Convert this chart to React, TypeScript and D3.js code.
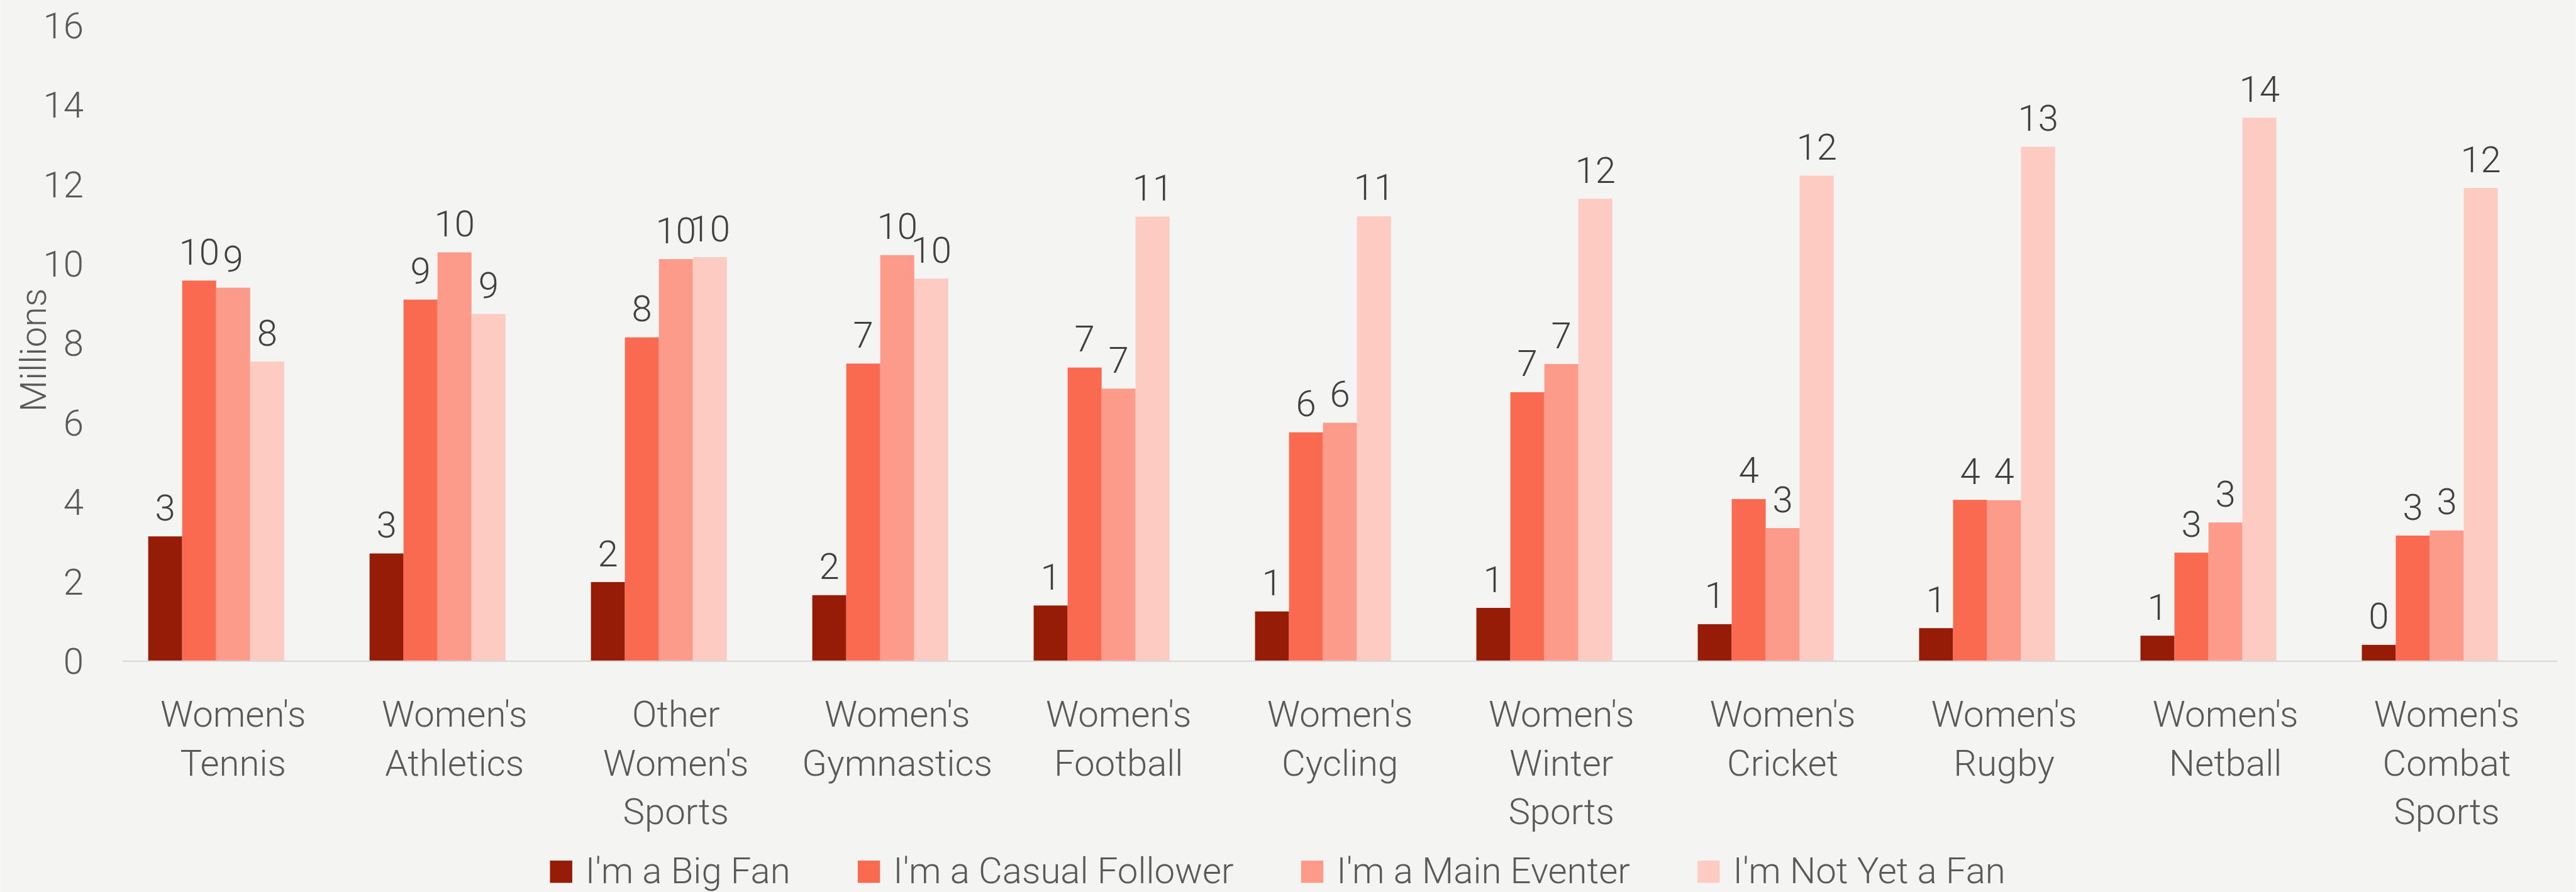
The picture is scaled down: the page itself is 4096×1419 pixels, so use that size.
import * as d3 from 'd3';
import { useLayoutEffect, useRef, useState } from 'react';

const categories = [
  "Women's Tennis",
  "Women's Athletics",
  "Other Women's Sports",
  "Women's Gymnastics",
  "Women's Football",
  "Women's Cycling",
  "Women's Winter Sports",
  "Women's Cricket",
  "Women's Rugby",
  "Women's Netball",
  "Women's Combat Sports",
];

const seriesNames = [
  "I'm a Big Fan",
  "I'm a Casual Follower",
  "I'm a Main Eventer",
  "I'm Not Yet a Fan",
];

const bigFan = [3.13, 2.7, 1.98, 1.65, 1.39, 1.24, 1.33, 0.92, 0.82, 0.63, 0.4];
const casualFollower = [9.57, 9.09, 8.14, 7.48, 7.38, 5.75, 6.76, 4.07, 4.05, 2.72, 3.15];
const mainEventer = [9.39, 10.28, 10.11, 10.21, 6.85, 5.99, 7.47, 3.34, 4.04, 3.48, 3.28];
const notYetFan = [7.53, 8.73, 10.16, 9.62, 11.18, 11.19, 11.63, 12.21, 12.94, 13.67, 11.9];

const seriesValues = [bigFan, casualFollower, mainEventer, notYetFan];
const colors = ['#961c05', '#fa6a50', '#fc9b8a', '#fecbc2'];

const yTicks = [0, 2, 4, 6, 8, 10, 12, 14, 16];

// the excel chart keeps room for a fifth (empty) series in every group
const slots = [...seriesNames, ''];

const W = 4508;
const H = 1562;
const FONT = "Roboto, 'Open Sans', sans-serif";
const FS = 64;
const axisGrey = '#595959';
const labelGrey = '#404040';

const plotLeft = 214;
const plotRight = 4476;
const plotTop = 44;
const plotBottom = 1157;

const App = () => {
  const x0 = d3
    .scaleBand<string>()
    .domain(categories)
    .range([plotLeft, plotRight])
    .paddingInner(0.2323)
    .paddingOuter(0.2323 / 2);

  const x1 = d3.scaleBand<string>().domain(slots).range([0, x0.bandwidth()]);

  const y = d3.scaleLinear().domain([0, 16]).range([plotBottom, plotTop]);

  // category label sits in the middle of the whole step
  const labelX = (c: string) => (x0(c) ?? 0) - (x0.step() - x0.bandwidth()) / 2 + x0.step() / 2;

  const legendRefs = useRef<(SVGTextElement | null)[]>([]);
  const [textW, setTextW] = useState<number[]>(seriesNames.map((s) => s.length * 28));

  useLayoutEffect(() => {
    const w = legendRefs.current.map((t, i) => (t ? t.getComputedTextLength() : textW[i]));
    if (w.some((v, i) => Math.abs(v - textW[i]) > 0.5)) setTextW(w);
  }, [textW]);

  const swatch = 39;
  const swatchGap = 23;
  const itemGap = 118;
  const legendCenter = 2236;
  const itemWidths = textW.map((t) => swatch + swatchGap + t);
  const legendTotal = d3.sum(itemWidths) + itemGap * (seriesNames.length - 1);
  const legendX: number[] = [];
  itemWidths.reduce((acc, w) => {
    legendX.push(acc);
    return acc + w + itemGap;
  }, legendCenter - legendTotal / 2);

  return (
    <svg
      width={4096}
      height={1419}
      viewBox={`0 0 ${W} ${H}`}
      style={{ position: 'absolute', left: 0, top: 0, display: 'block' }}
      fontFamily={FONT}
      fontWeight={300}
    >
      <rect x={0} y={0} width={W} height={H} fill='#f4f4f2' />

      {/* y axis labels */}
      <g fill={axisGrey} fontSize={FS} textAnchor='end'>
        {yTicks.map((t) => (
          <text key={t} x={146} y={y(t)} dy='0.36em'>
            {t}
          </text>
        ))}
      </g>
      <text
        transform={`translate(80, 613) rotate(-90)`}
        textAnchor='middle'
        fill={axisGrey}
        fontSize={FS}
      >
        Millions
      </text>

      {/* bars */}
      {seriesValues.map((vals, si) => (
        <g key={si} fill={colors[si]}>
          {vals.map((v, ci) => (
            <rect
              key={ci}
              x={(x0(categories[ci]) ?? 0) + (x1(seriesNames[si]) ?? 0)}
              y={y(v)}
              width={x1.bandwidth()}
              height={y(0) - y(v)}
            />
          ))}
        </g>
      ))}

      {/* baseline */}
      <line
        x1={plotLeft}
        x2={plotRight}
        y1={y(0) + 1}
        y2={y(0) + 1}
        stroke='#d9d9d9'
        strokeWidth={2.5}
      />

      {/* data labels */}
      <g fill={labelGrey} fontSize={FS} textAnchor='middle'>
        {seriesValues.map((vals, si) =>
          vals.map((v, ci) => (
            <text
              key={`${si}-${ci}`}
              x={(x0(categories[ci]) ?? 0) + (x1(seriesNames[si]) ?? 0) + x1.bandwidth() / 2}
              y={y(v) - 28}
            >
              {Math.round(v)}
            </text>
          )),
        )}
      </g>

      {/* category labels, one word per line */}
      <g fill={axisGrey} fontSize={FS} textAnchor='middle'>
        {categories.map((c) => (
          <text key={c} y={1273}>
            {c.split(' ').map((word, i) => (
              <tspan key={i} x={labelX(c)} dy={i === 0 ? 0 : 85}>
                {word}
              </tspan>
            ))}
          </text>
        ))}
      </g>

      {/* legend */}
      <g fontSize={FS}>
        {seriesNames.map((s, i) => (
          <g key={s} transform={`translate(${legendX[i]}, 0)`}>
            <rect x={0} y={1507} width={swatch} height={swatch} fill={colors[i]} />
            <text
              ref={(el) => {
                legendRefs.current[i] = el;
              }}
              x={swatch + swatchGap}
              y={1547}
              fill={axisGrey}
            >
              {s}
            </text>
          </g>
        ))}
      </g>
    </svg>
  );
};

export default App;
